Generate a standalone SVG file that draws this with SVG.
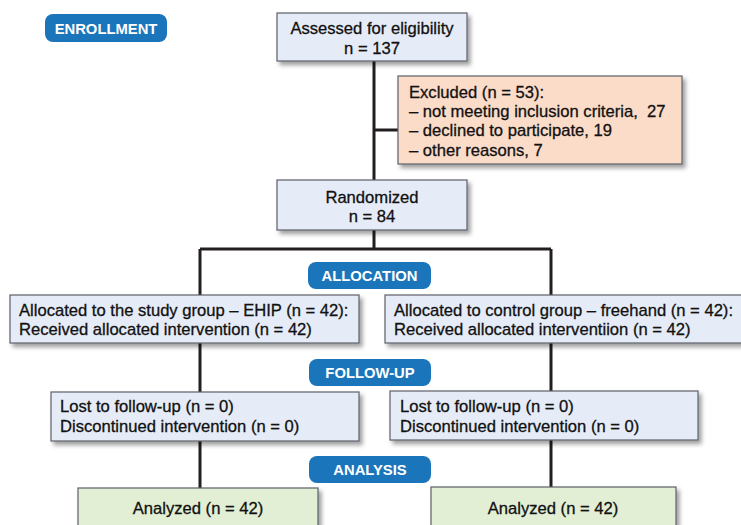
<svg xmlns="http://www.w3.org/2000/svg" width="741" height="525" viewBox="0 0 741 525">
<defs>
<filter id="sh" x="-10%" y="-20%" width="130%" height="150%">
<feDropShadow dx="3" dy="3.5" stdDeviation="2.2" flood-color="#000" flood-opacity="0.38"/>
</filter>
</defs>
<style>
.box{fill:#e6ecf7;stroke:#5d6068;stroke-width:1.2;filter:url(#sh)}
.exc{fill:#fbdcc9;stroke:#5d6068;stroke-width:1.2;filter:url(#sh)}
.ana{fill:#e3efd5;stroke:#5d6068;stroke-width:1.2;filter:url(#sh)}
.pill{fill:#1b75bb}
.t{font-family:"Liberation Sans",Arial,sans-serif;font-size:16.6px;fill:#111;stroke:#111;stroke-width:0.3}
.c{text-anchor:middle}
.p{font-family:"Liberation Sans",Arial,sans-serif;font-size:14.8px;font-weight:bold;fill:#fff;text-anchor:middle}
.ln{stroke:#231f20;stroke-width:3;fill:none}
</style>
<g id="connectors">
<path class="ln" d="M374 61 V180 M374 130 H398 M374 230 V249 M200 249 H551 M200 249 V490 M551 249 V490"/>
</g>
<g id="enrollment"><rect class="pill" x="45" y="14" width="122" height="28" rx="8"/><text class="p" x="106" y="33.5">ENROLLMENT</text></g>
<g id="assessed"><rect class="box" x="277" y="13" width="190" height="48"/><text class="t c" x="372" y="34">Assessed for eligibility</text><text class="t c" x="372" y="54">n = 137</text></g>
<g id="excluded"><rect class="exc" x="398" y="76" width="284" height="88"/>
<text class="t" x="409" y="98">Excluded (n = 53):</text>
<text class="t" x="409" y="117">– not meeting inclusion criteria,&#160; 27</text>
<text class="t" x="409" y="136">– declined to participate, 19</text>
<text class="t" x="409" y="156">– other reasons, 7</text></g>
<g id="randomized"><rect class="box" x="277" y="180" width="190" height="50"/><text class="t c" x="372" y="203">Randomized</text><text class="t c" x="372" y="222">n = 84</text></g>
<g id="allocation"><rect class="pill" x="308" y="262" width="123" height="27" rx="8"/><text class="p" x="369.5" y="281">ALLOCATION</text></g>
<g id="alloc-left"><rect class="box" x="10" y="295" width="349" height="48"/><text class="t" x="19" y="316">Allocated to the study group – EHIP (n = 42):</text><text class="t" x="19" y="335">Received allocated intervention (n = 42)</text></g>
<g id="alloc-right"><rect class="box" x="385" y="295" width="360" height="48"/><text class="t" x="394" y="316">Allocated to control group – freehand (n = 42):</text><text class="t" x="394" y="335">Received allocated interventiion (n = 42)</text></g>
<g id="followup"><rect class="pill" x="309" y="359" width="122" height="27" rx="8"/><text class="p" x="370" y="378">FOLLOW-UP</text></g>
<g id="lost-left"><rect class="box" x="51" y="392" width="308" height="49"/><text class="t" x="60" y="412">Lost to follow-up (n = 0)</text><text class="t" x="60" y="432">Discontinued intervention (n = 0)</text></g>
<g id="lost-right"><rect class="box" x="390" y="391" width="308" height="49"/><text class="t" x="400" y="412">Lost to follow-up (n = 0)</text><text class="t" x="400" y="432">Discontinued intervention (n = 0)</text></g>
<g id="analysis"><rect class="pill" x="309" y="456" width="122" height="27" rx="8"/><text class="p" x="370" y="475">ANALYSIS</text></g>
<g id="analyzed-left"><rect class="ana" x="78" y="488" width="240" height="50"/><text class="t c" x="198" y="514">Analyzed (n = 42)</text></g>
<g id="analyzed-right"><rect class="ana" x="431" y="487" width="245" height="50"/><text class="t c" x="553" y="514">Analyzed (n = 42)</text></g>
</svg>
